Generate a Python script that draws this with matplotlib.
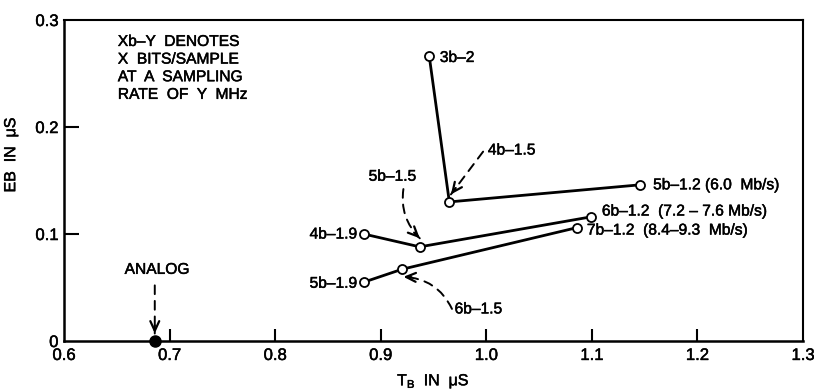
import numpy as np
import matplotlib
matplotlib.use("Agg")
import matplotlib.pyplot as plt
import matplotlib.patheffects as pe

plt.rcParams['font.family'] = ['Liberation Sans', 'DejaVu Sans']
plt.rcParams['mathtext.fontset'] = 'custom'
plt.rcParams['mathtext.rm'] = 'Liberation Sans'

# Three coding families, each traced through three sampling rates
curve_labels = [
    ["3b–2", "4b–1.5", "5b–1.2 (6.0  Mb/s)"],
    ["4b–1.9", "5b–1.5", "6b–1.2  (7.2 – 7.6 Mb/s)"],
    ["5b–1.9", "6b–1.5", "7b–1.2  (8.4–9.3  Mb/s)"],
]
tb_values = [
    [0.946, 0.965, 1.146],
    [0.884, 0.937, 1.099],
    [0.884, 0.920, 1.086],
]
eb_values = [
    [0.266, 0.130, 0.146],
    [0.100, 0.088, 0.116],
    [0.055, 0.067, 0.106],
]
analog_tb = 0.686
analog_eb = 0.0

x_ticks = [0.6, 0.7, 0.8, 0.9, 1.0, 1.1, 1.2, 1.3]
x_ticklabels = ["0.6", "0.7", "0.8", "0.9", "1.0", "1.1", "1.2", "1.3"]
y_ticks = [0.0, 0.1, 0.2, 0.3]
y_ticklabels = ["0", "0.1", "0.2", "0.3"]

# slightly heavier strokes for all lettering
heavy = [pe.withStroke(linewidth=0.35, foreground='black')]

fig = plt.figure(figsize=(8.14, 3.9), dpi=100)
ax = fig.add_axes([0.0786, 0.1256, 0.9079, 0.8231])
ax.set_xlim(0.6, 1.3)
ax.set_ylim(0.0, 0.3)

for s in ax.spines.values():
    s.set_linewidth(1.5)
ax.spines['left'].set_linewidth(1.8)
ax.spines['bottom'].set_linewidth(1.8)

ax.set_xticks(x_ticks)
ax.set_xticklabels(x_ticklabels)
ax.set_yticks(y_ticks)
ax.set_yticklabels(y_ticklabels)
ax.tick_params(direction='in', width=1.5, labelsize=12)
ax.tick_params(axis='x', pad=5, length=9)
ax.tick_params(axis='y', pad=4, length=11)
# no tick marks on the corners
for t in ax.xaxis.get_major_ticks():
    if abs(t.get_loc() - 0.6) < 1e-9 or abs(t.get_loc() - 1.3) < 1e-9:
        t.tick1line.set_visible(False)
for t in ax.yaxis.get_major_ticks():
    if abs(t.get_loc() - 0.0) < 1e-9 or abs(t.get_loc() - 0.3) < 1e-9:
        t.tick1line.set_visible(False)
for lbl in ax.get_xticklabels() + ax.get_yticklabels():
    lbl.set_path_effects(heavy)

ax.set_xlabel(r"$\mathregular{T_B}$  IN  μS", fontsize=11.5, labelpad=6)
ax.set_ylabel("EB  IN  μS", fontsize=11.5)
ax.yaxis.set_label_coords(-0.062, 0.58)
ax.xaxis.label.set_path_effects(heavy)
ax.yaxis.label.set_path_effects(heavy)

for xs, ys in zip(tb_values, eb_values):
    ax.plot(xs, ys, color='black', lw=2.0, marker='o', ms=6.5,
            mfc='white', mec='black', mew=1.3, zorder=3)

ax.plot([analog_tb], [analog_eb], marker='o', ms=8, color='black',
        clip_on=False, zorder=4)

fs = 11.2
# direct labels beside the end points
label_kw = dict(fontsize=fs, va='center', path_effects=heavy)
ax.text(0.956, 0.265, curve_labels[0][0], ha='left', **label_kw)
ax.text(1.158, 0.146, curve_labels[0][2], ha='left', **label_kw)
ax.text(1.1095, 0.1215, curve_labels[1][2], ha='left', **label_kw)
ax.text(1.0953, 0.1037, curve_labels[2][2], ha='left', **label_kw)
ax.text(0.8775, 0.100, curve_labels[1][0], ha='right', **label_kw)
ax.text(0.8775, 0.054, curve_labels[2][0], ha='right', **label_kw)

ax.text(0.651, 0.287,
        "Xb–Y  DENOTES\nX  BITS/SAMPLE\nAT  A  SAMPLING\nRATE  OF  Y  MHz",
        fontsize=11.2, va='top', ha='left', linespacing=1.22,
        path_effects=heavy)


def dashed_pointer(text, text_xy, start, end, rad=0.0, ha='center', va='center'):
    """Dashed leader from a label to a point, finished with an open arrow head."""
    ax.text(text_xy[0], text_xy[1], text, fontsize=fs, ha=ha, va=va,
            path_effects=heavy)
    ax.annotate('', xy=end, xytext=start,
                arrowprops=dict(arrowstyle='-', lw=1.4, ls=(0, (4.5, 3.5)),
                                connectionstyle=f'arc3,rad={rad}',
                                shrinkA=0, shrinkB=0))
    # direction of the curve at its end, in display space
    p1 = ax.transData.transform(start)
    p2 = ax.transData.transform(end)
    mid = (p1 + p2) / 2
    dx, dy = p2 - p1
    ctrl = np.array([mid[0] + rad * dy, mid[1] - rad * dx])
    d = ctrl - p2
    d = d / np.hypot(*d)
    back = ax.transData.inverted().transform(p2 + d * 8)
    ax.annotate('', xy=end, xytext=back,
                arrowprops=dict(arrowstyle='->,head_length=0.7,head_width=0.32',
                                lw=1.6, shrinkA=0, shrinkB=0))


dashed_pointer("ANALOG", (0.688, 0.067), (analog_tb, 0.052), (analog_tb, 0.007))
dashed_pointer(curve_labels[0][1], (1.0015, 0.1785), (0.997, 0.177),
               (0.9665, 0.137), ha='left')
dashed_pointer(curve_labels[1][1], (0.911, 0.154), (0.9215, 0.142),
               (0.937, 0.096), rad=0.25)
dashed_pointer(curve_labels[2][1], (0.970, 0.030), (0.9675, 0.030),
               (0.9215, 0.060), rad=0.3, ha='left')

fig.savefig("out.png", dpi=100)
